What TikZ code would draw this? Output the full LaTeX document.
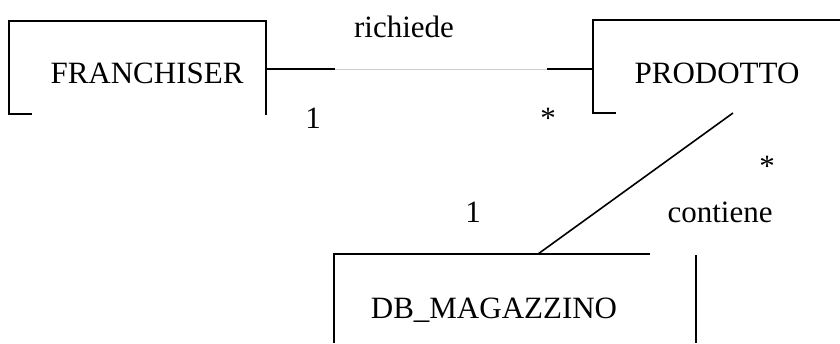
\documentclass[tikz,border=0pt]{standalone}
\usepackage{fontspec}
\setmainfont{Liberation Serif}
\begin{document}
\begin{tikzpicture}[x=1pt,y=-1pt,line width=1.6pt,
  lbl/.style={font=\fontsize{31}{36}\selectfont, inner sep=0pt, anchor=base},
  faint/.style={line width=0.5pt, draw=black!20}]
\useasboundingbox (0,0) rectangle (840,343);
% boxes (partial outlines)
\draw (32,114) -- (9,114) -- (9,21) -- (266,21) -- (266,115);
\draw (840,20) -- (593,20) -- (593,113) -- (616,113);
\draw (650,254) -- (334,254) -- (334,343);
\draw (696,255) -- (696,343);
% texts
\node[lbl] (fr) at (147,83) {FRANCHISER};
\node[lbl] (pr) at (717,83) {PRODOTTO};
\node[lbl] (db) at (494,318) {DB\_MAGAZZINO};
\node[lbl] (ric) at (404,37) {richiede};
\node[lbl] (con) at (720,222) {contiene};
\node[lbl] (m1) at (313,128) {1};
\node[lbl] (m2) at (548,128) {*};
\node[lbl] (m3) at (767,176) {*};
\node[lbl] (m4) at (473,222) {1};
% connectors
\coordinate (frR) at (266,69);
\coordinate (a1) at (335,69);
\coordinate (a2) at (547,69);
\coordinate (prL) at (593,69);
\coordinate (prB) at (733,113);
\coordinate (dbT) at (538,254);
\draw (frR) -- (a1);
\draw[faint] (a1) -- (a2);
\draw (a2) -- (prL);
\draw (prB) -- (dbT);
\end{tikzpicture}
\end{document}
